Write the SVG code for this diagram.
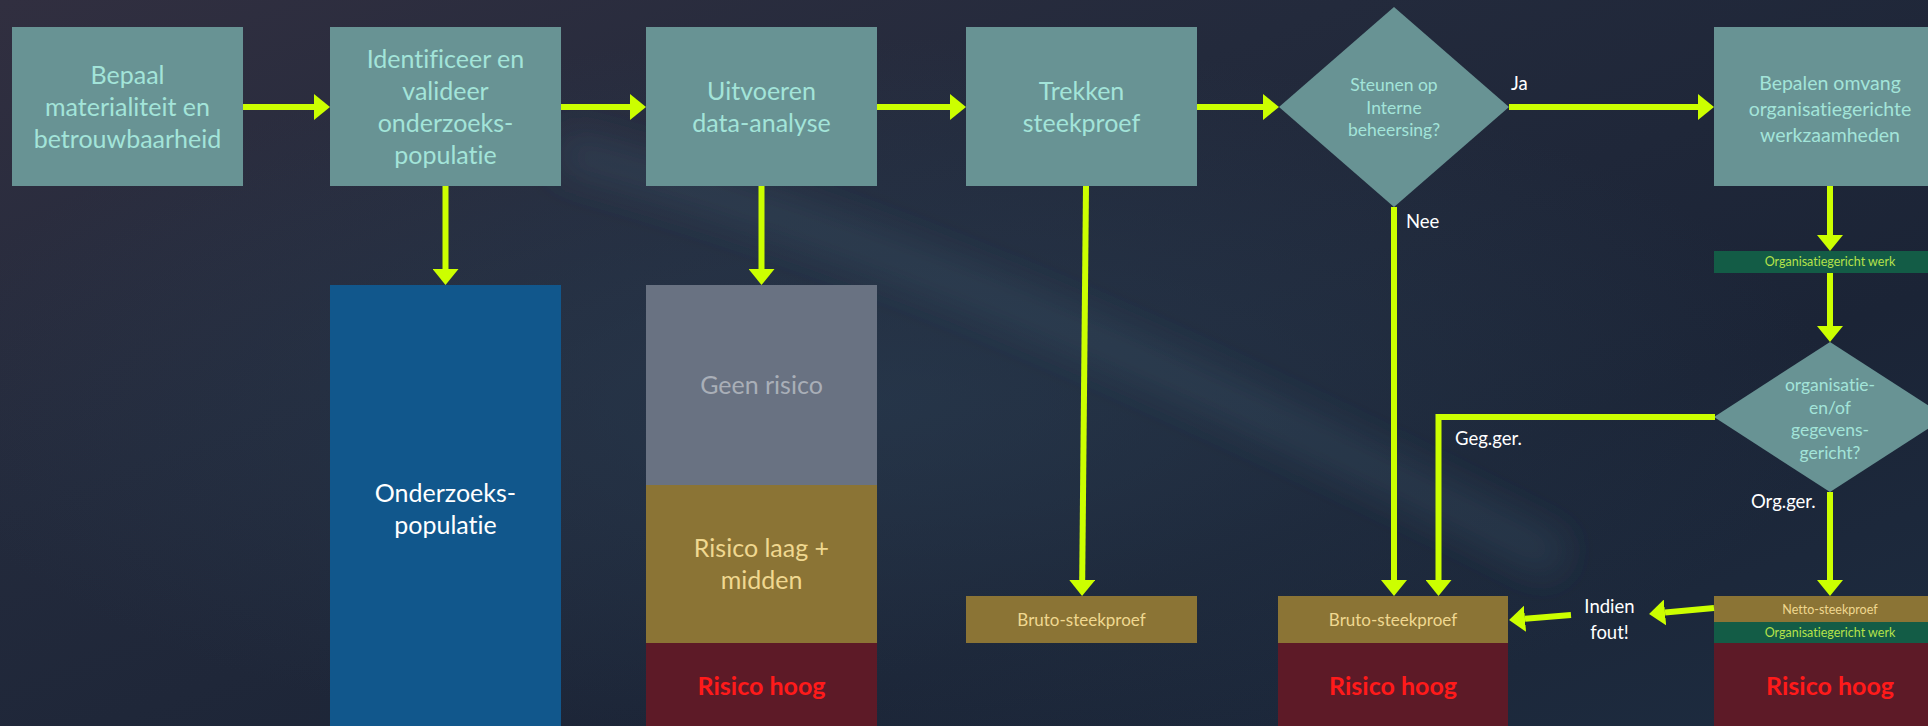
<svg xmlns="http://www.w3.org/2000/svg" width="1928" height="726" viewBox="0 0 1928 726">
<defs>
<linearGradient id="bg" x1="0" y1="0" x2="1" y2="1">
<stop offset="0" stop-color="#312f40"/>
<stop offset="0.35" stop-color="#232a3c"/>
<stop offset="0.7" stop-color="#1b2436"/>
<stop offset="1" stop-color="#1d2c40"/>
</linearGradient>
<radialGradient id="glow" cx="0.45" cy="0.55" r="0.5">
<stop offset="0" stop-color="#2c4358" stop-opacity="0.5"/>
<stop offset="1" stop-color="#2c4358" stop-opacity="0"/>
</radialGradient>
<filter id="blur" x="-20%" y="-20%" width="140%" height="140%"><feGaussianBlur stdDeviation="18"/></filter>
<marker id="ah" viewBox="0 0 16 26" refX="0" refY="13" markerWidth="16" markerHeight="26" markerUnits="userSpaceOnUse" orient="auto">
<path d="M0,0 L16,13 L0,26 Z" fill="#ccff00"/>
</marker>
<style>
text{font-variant-ligatures:none;font-feature-settings:"liga" 0}
.box{fill:#689394}
.bt{font-family:Lato,"Open Sans",sans-serif;font-size:25px;fill:#a3e4d9;text-anchor:middle}
.bt2{font-family:Lato,"Open Sans",sans-serif;font-size:19.5px;fill:#a3e4d9;text-anchor:middle}
.dt{font-family:Lato,"Open Sans",sans-serif;font-size:17.5px;fill:#a3e4d9;text-anchor:middle}
.lbl{font-family:Lato,"Open Sans",sans-serif;font-size:18.5px;fill:#ffffff}
.con{fill:none;stroke:#ccff00;stroke-width:6;marker-end:url(#ah)}
.hoog{fill:#5d1a27}
.ht{font-family:Lato,"Open Sans",sans-serif;font-size:25px;font-weight:bold;fill:#ff1a1a;text-anchor:middle}
.ochre{fill:#8b7435}
.ot{font-family:Lato,"Open Sans",sans-serif;fill:#f0d890;text-anchor:middle}
.green{fill:#135c46}
.gt{font-family:Lato,"Open Sans",sans-serif;font-size:12.5px;fill:#b5e24a;text-anchor:middle}
</style>
</defs>
<rect width="1928" height="726" fill="url(#bg)"/>
<rect width="1928" height="726" fill="url(#glow)"/>
<path d="M560,150 C900,240 1200,380 1560,560" fill="none" stroke="#3b5566" stroke-width="40" stroke-opacity="0.35" filter="url(#blur)"/>

<g id="n1"><rect class="box" x="12" y="27" width="231" height="159"/>
<text class="bt" x="127.5" y="84">Bepaal</text><text class="bt" x="127.5" y="116">materialiteit en</text><text class="bt" x="127.5" y="148">betrouwbaarheid</text></g>

<g id="n2"><rect class="box" x="330" y="27" width="231" height="159"/>
<text class="bt" x="445.5" y="68">Identificeer en</text><text class="bt" x="445.5" y="100">valideer</text><text class="bt" x="445.5" y="132">onderzoeks-</text><text class="bt" x="445.5" y="164">populatie</text></g>

<g id="n3"><rect class="box" x="646" y="27" width="231" height="159"/>
<text class="bt" x="761.5" y="100">Uitvoeren</text><text class="bt" x="761.5" y="132">data-analyse</text></g>

<g id="n4"><rect class="box" x="966" y="27" width="231" height="159"/>
<text class="bt" x="1081.5" y="100">Trekken</text><text class="bt" x="1081.5" y="132">steekproef</text></g>

<g id="d1"><polygon class="box" points="1394,7 1509,107 1394,207 1279,107"/>
<text class="dt" x="1394" y="91">Steunen op</text><text class="dt" x="1394" y="113.5">Interne</text><text class="dt" x="1394" y="136">beheersing?</text></g>

<g id="n6"><rect class="box" x="1714" y="27" width="232" height="159"/>
<text class="bt2" x="1830" y="90">Bepalen omvang</text><text class="bt2" x="1830" y="116">organisatiegerichte</text><text class="bt2" x="1830" y="142">werkzaamheden</text></g>

<g id="g6"><rect class="green" x="1714" y="251" width="232" height="22"/>
<text class="gt" x="1830" y="266">Organisatiegericht werk</text></g>

<g id="d2"><polygon class="box" points="1830,342 1946,417 1830,492 1714,417"/>
<text class="dt" x="1830" y="391">organisatie-</text><text class="dt" x="1830" y="413.5">en/of</text><text class="dt" x="1830" y="436">gegevens-</text><text class="dt" x="1830" y="458.5">gericht?</text></g>

<g id="pop"><rect x="330" y="285" width="231" height="441" fill="#11578c"/>
<text class="bt" x="445.5" y="502" style="fill:#ffffff">Onderzoeks-</text><text class="bt" x="445.5" y="534" style="fill:#ffffff">populatie</text></g>

<g id="risk"><rect x="646" y="285" width="231" height="200" fill="#697282"/>
<text class="bt" x="761.5" y="394" style="fill:#a9afb8">Geen risico</text>
<rect class="ochre" x="646" y="485" width="231" height="158"/>
<text class="ot" x="761.5" y="557" font-size="25">Risico laag +</text><text class="ot" x="761.5" y="589" font-size="25">midden</text>
<rect class="hoog" x="646" y="643" width="231" height="83"/>
<text class="ht" x="761.5" y="695">Risico hoog</text></g>

<g id="bruto1"><rect class="ochre" x="966" y="596" width="231" height="47"/>
<text class="ot" x="1081.5" y="626" font-size="17">Bruto-steekproef</text></g>

<g id="bruto2"><rect class="ochre" x="1278" y="596" width="230" height="47"/>
<text class="ot" x="1393" y="626" font-size="17">Bruto-steekproef</text>
<rect class="hoog" x="1278" y="643" width="230" height="83"/>
<text class="ht" x="1393" y="695">Risico hoog</text></g>

<g id="netto"><rect class="ochre" x="1714" y="596" width="232" height="26"/>
<text class="ot" x="1830" y="614" font-size="12.5">Netto-steekproef</text>
<rect class="green" x="1714" y="622" width="232" height="21"/>
<text class="gt" x="1830" y="637">Organisatiegericht werk</text>
<rect class="hoog" x="1714" y="643" width="232" height="83"/>
<text class="ht" x="1830" y="695">Risico hoog</text></g>

<g id="connectors">
<line class="con" x1="243" y1="107" x2="314" y2="107"/>
<line class="con" x1="561" y1="107" x2="630" y2="107"/>
<line class="con" x1="877" y1="107" x2="950" y2="107"/>
<line class="con" x1="1197" y1="107" x2="1263" y2="107"/>
<line class="con" x1="1509" y1="107" x2="1698" y2="107"/>
<line class="con" x1="445.5" y1="186" x2="445.5" y2="269"/>
<line class="con" x1="761.5" y1="186" x2="761.5" y2="269"/>
<line class="con" x1="1086" y1="186" x2="1082.2" y2="580"/>
<line class="con" x1="1394" y1="207" x2="1394" y2="580"/>
<polyline class="con" points="1715,417 1438.5,417 1438.5,580"/>
<line class="con" x1="1830" y1="186" x2="1830" y2="235"/>
<line class="con" x1="1830" y1="273" x2="1830" y2="326"/>
<line class="con" x1="1830" y1="492" x2="1830" y2="580"/>
<line class="con" x1="1714" y1="608" x2="1665" y2="612.5"/>
<line class="con" x1="1571" y1="615" x2="1525" y2="618.7"/>
<text class="lbl" x="1511" y="90">Ja</text>
<text class="lbl" x="1406" y="228">Nee</text>
<text class="lbl" x="1455" y="445">Geg.ger.</text>
<text class="lbl" x="1751" y="508">Org.ger.</text>
<text class="lbl" x="1609.5" y="613" text-anchor="middle" font-size="21.5">Indien</text>
<text class="lbl" x="1609.5" y="639" text-anchor="middle" font-size="21.5">fout!</text>
</g>
</svg>
